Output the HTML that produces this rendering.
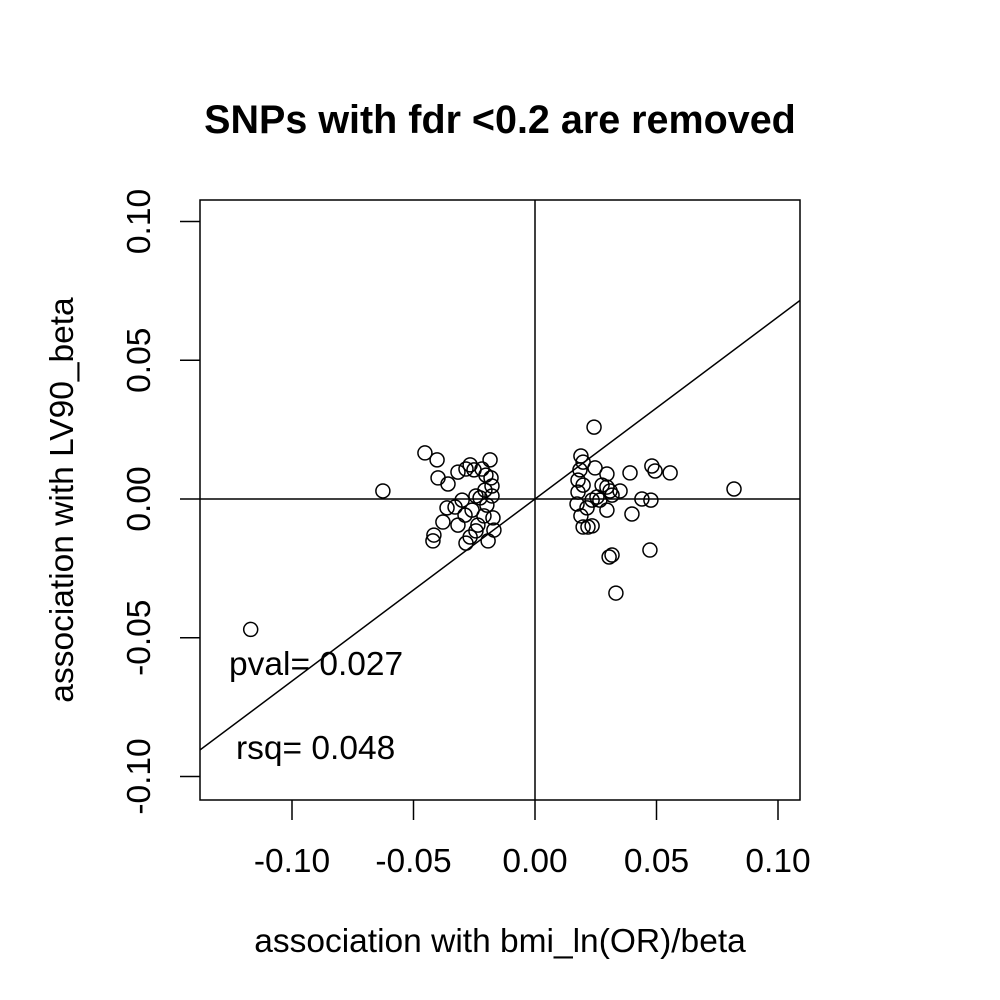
<!DOCTYPE html>
<html><head><meta charset="utf-8"><style>
body{margin:0;background:#fff;}
svg{display:block;font-family:"Liberation Sans",sans-serif;}
</style></head><body>
<svg id="chart" width="1000" height="1000" viewBox="0 0 1000 1000">
<rect width="1000" height="1000" fill="#fff"/>
<text x="500" y="133" text-anchor="middle" font-size="39.5" font-weight="bold">SNPs with fdr &lt;0.2 are removed</text>
<text x="500" y="952" text-anchor="middle" font-size="33.5">association with bmi_ln(OR)/beta</text>
<text transform="translate(73,500) rotate(-90)" text-anchor="middle" font-size="33.5">association with LV90_beta</text>
<g id="plot"></g>
<text x="229" y="675" font-size="33.5">pval= 0.027</text>
<text x="236" y="759" font-size="33.5">rsq= 0.048</text>
</svg>
<script>
const xTicks=[-0.10,-0.05,0.00,0.05,0.10];
const yTicks=[-0.10,-0.05,0.00,0.05,0.10];
const tickLabels=["-0.10","-0.05","0.00","0.05","0.10"];
const slope=0.656, intercept=0.0;
const xVals=[-0.117,-0.0626,-0.0453,-0.0403,-0.0399,-0.0358,-0.0379,-0.0420,-0.0416,-0.0362,-0.0329,-0.0317,-0.0300,-0.0284,-0.0267,-0.0251,-0.0284,-0.0267,-0.0317,-0.0288,-0.0259,-0.0243,-0.0235,-0.0218,-0.0206,-0.0198,-0.0185,-0.0181,-0.0177,-0.0193,-0.0173,-0.0169,-0.0210,-0.0226,-0.0202,-0.0177,-0.0243,
0.0243,0.0189,0.0198,0.0185,0.0177,0.0198,0.0247,0.0177,0.0173,0.0189,0.0198,0.0218,0.0235,0.0214,0.0235,0.0255,0.0276,0.0296,0.0296,0.0309,0.0317,0.0350,0.0296,0.0267,0.0391,0.0481,0.0494,0.0556,0.0440,0.0477,0.0399,0.0305,0.0317,0.0333,0.0473,0.0819];
const yVals=[-0.047,0.0029,0.0166,0.0141,0.0076,0.0054,-0.0083,-0.0151,-0.0130,-0.0032,-0.0029,0.0097,-0.0004,0.0108,0.0123,0.0105,-0.0159,-0.0137,-0.0094,-0.0058,-0.0040,0.0011,-0.0094,0.0108,0.0032,-0.0022,0.0141,0.0076,0.0047,-0.0151,-0.0068,-0.0112,-0.0061,0.0004,0.0086,0.0011,-0.0115,
0.0259,0.0155,0.0133,0.0105,0.0068,0.0050,0.0112,0.0025,-0.0018,-0.0061,-0.0101,-0.0101,-0.0097,-0.0032,-0.0004,0.0007,0.0050,0.0090,0.0043,0.0029,0.0014,0.0029,-0.0040,-0.0004,0.0094,0.0119,0.0101,0.0094,0.0000,-0.0004,-0.0054,-0.0209,-0.0202,-0.0339,-0.0184,0.0036];
const NS="http://www.w3.org/2000/svg";
const sx=v=>535+v*2430;
const sy=v=>499-v*2775;
const g=document.getElementById('plot');
function mk(tag,attrs){const e=document.createElementNS(NS,tag);for(const k in attrs)e.setAttribute(k,attrs[k]);g.appendChild(e);return e;}
const defs=document.createElementNS(NS,'defs');defs.innerHTML='<clipPath id="cp"><rect x="200" y="200" width="600" height="600"/></clipPath>';g.appendChild(defs);
let e;
e=mk('rect',{x:200,y:200,width:600,height:600,fill:'none',stroke:'#000','stroke-width':1.5});


e=mk('line',{x1:sx(0),x2:sx(0),y1:200,y2:800,stroke:'#000','stroke-width':1.5});


e=mk('line',{x1:200,x2:800,y1:sy(0),y2:sy(0),stroke:'#000','stroke-width':1.5});


const xa=-0.14,xb=0.11;
e=mk('line',{x1:sx(xa),y1:sy(intercept+slope*xa),x2:sx(xb),y2:sy(intercept+slope*xb),stroke:'#000','stroke-width':1.5,'clip-path':'url(#cp)'});


xTicks.forEach((t,i)=>{
 let l=mk('line',{x1:sx(t),x2:sx(t),y1:800,y2:820,stroke:'#000','stroke-width':1.5});
 
 
 let tx=mk('text',{x:sx(t),y:872,'text-anchor':'middle','font-size':33.5});
 tx.textContent=tickLabels[i];
 
 
});
yTicks.forEach((t,i)=>{
 let l=mk('line',{x1:180,x2:200,y1:sy(t),y2:sy(t),stroke:'#000','stroke-width':1.5});
 
 
 let tx=mk('text',{transform:`translate(150,${sy(t)}) rotate(-90)`,'text-anchor':'middle','font-size':33.5});
 tx.textContent=tickLabels[i];
 
 
});
xVals.forEach((x,i)=>{
 let c=mk('circle',{cx:sx(x),cy:sy(yVals[i]),r:7,fill:'none',stroke:'#000','stroke-width':1.5});
 
 
});
</script>
</body></html>
